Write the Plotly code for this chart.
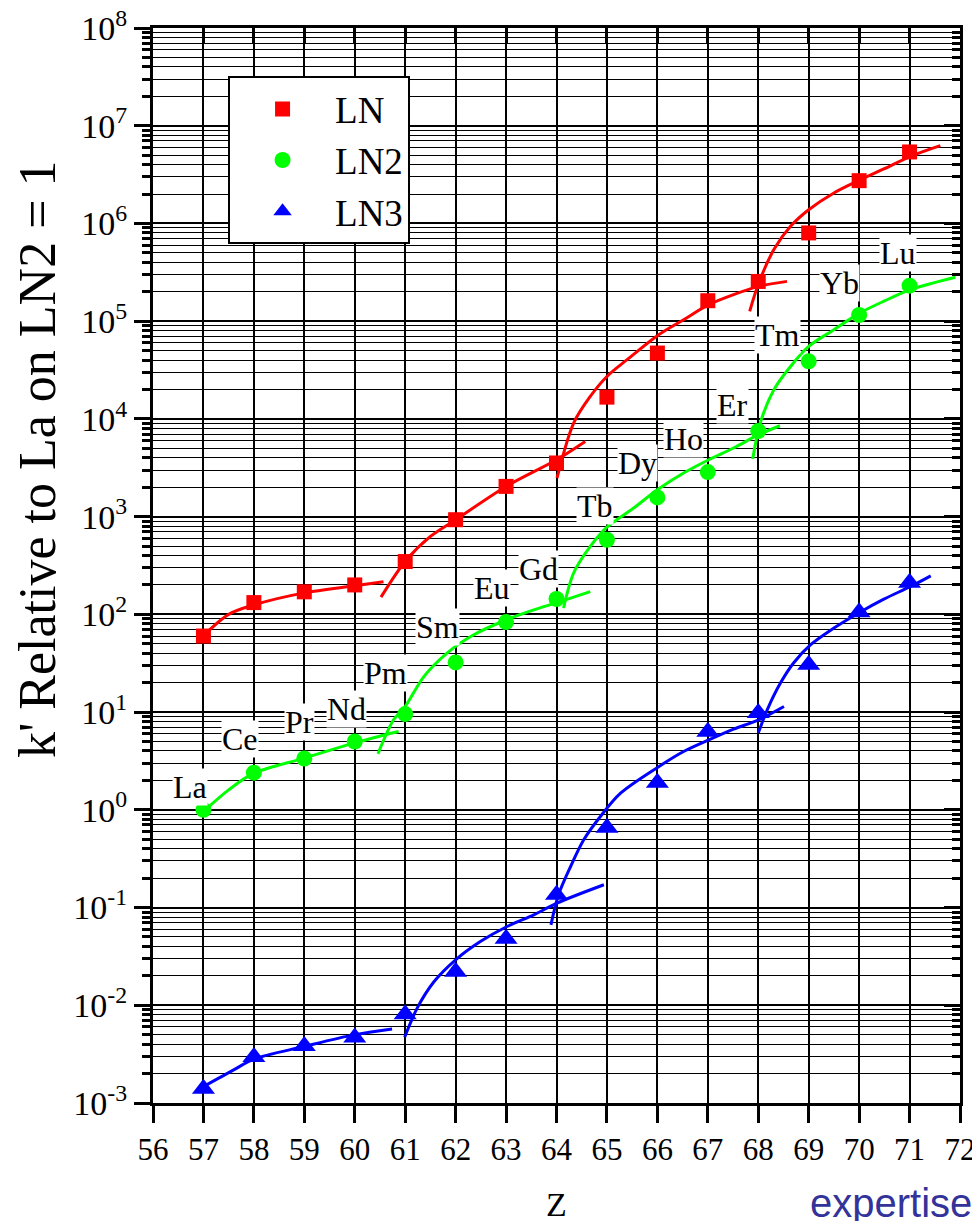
import plotly.graph_objects as go

# ---------------- data ----------------
Z = list(range(57, 72))
ELEMENTS = ["La", "Ce", "Pr", "Nd", "Pm", "Sm", "Eu", "Gd", "Tb", "Dy", "Ho", "Er", "Tm", "Yb", "Lu"]

LN = [60, 132, 170, 200, 347, 930, 2040, 3540, 16700, 47200, 162000, 255000, 800000, 2740000, 5390000]
LN2 = [1.0, 2.4, 3.35, 5.0, 9.55, 32.2, 83.4, 143.5, 580, 1573, 2860, 7520, 38800, 115700, 230700]
LN3 = [0.00140, 0.00296, 0.00382, 0.00468, 0.0081, 0.022, 0.048, 0.135, 0.655, 1.89, 6.3, 9.8, 30.5, 105, 211]

# fitted curve segments (four per resin)
LN_fit_A_x = [57.0, 57.5, 58.0, 59.0, 60.0, 60.57]
LN_fit_A_y = [60.4, 100, 125, 166, 196, 216]
LN_fit_B_x = [60.52, 61.0, 61.5, 62.0, 63.0, 64.0, 64.57]
LN_fit_B_y = [150, 348, 627, 929, 2037, 3822, 5890]
LN_fit_C_x = [64.01, 64.34, 64.67, 65.0, 65.4, 66.0, 66.52, 67.02, 67.51, 68.01, 68.57]
LN_fit_C_y = [2484, 9080, 17000, 27200, 40400, 71100, 103500, 147500, 187000, 227000, 255500]
LN_fit_D_x = [67.83, 68.01, 68.31, 68.64, 69.0, 69.5, 70.0, 70.49, 71.02, 71.61]
LN_fit_D_y = [1.26e5, 2.46e5, 5.4e5, 9.34e5, 1.38e6, 2.05e6, 2.76e6, 3.61e6, 4.86e6, 6.25e6]

LN2_fit_A_x = [57.0, 57.5, 58.0, 59.0, 59.98, 60.87]
LN2_fit_A_y = [0.96, 1.6, 2.37, 3.38, 4.82, 6.33]
LN2_fit_B_x = [60.46, 60.77, 61.0, 61.37, 61.83, 62.36, 63.01, 63.55, 64.01, 64.67]
LN2_fit_B_y = [3.74, 8.34, 11.4, 23.1, 40.2, 61.8, 88.1, 111, 132, 171]
LN2_fit_C_x = [64.14, 64.34, 64.67, 65.0, 65.53, 66.0, 66.52, 67.02, 67.51, 68.01, 68.43]
LN2_fit_C_y = [116, 265, 495, 780, 1225, 1885, 2795, 3822, 5040, 6890, 8510]
LN2_fit_D_x = [67.89, 68.04, 68.31, 68.64, 69.0, 69.5, 70.01, 70.49, 71.02, 71.91]
LN2_fit_D_y = [3890, 9080, 19900, 34400, 55200, 81900, 121000, 160000, 210000, 281000]

LN3_fit_A_x = [57.0, 57.6, 58.0, 58.99, 59.98, 60.74]
LN3_fit_A_y = [1.47e-3, 2.18e-3, 2.81e-3, 3.78e-3, 4.98e-3, 5.73e-3]
LN3_fit_B_x = [60.99, 61.24, 61.57, 62.0, 62.49, 63.02, 63.55, 64.01, 64.94]
LN3_fit_B_y = [4.71e-3, 9.4e-3, 0.0174, 0.0292, 0.0449, 0.0640, 0.0842, 0.111, 0.171]
LN3_fit_C_x = [63.89, 64.04, 64.28, 64.54, 64.87, 65.27, 66.01, 66.52, 67.02, 67.51, 68.01, 68.51]
LN3_fit_C_y = [0.0665, 0.135, 0.263, 0.493, 0.855, 1.48, 2.73, 3.95, 5.20, 6.70, 8.34, 11.4]
LN3_fit_D_x = [68.0, 68.18, 68.44, 68.70, 69.04, 69.5, 70.0, 70.49, 71.02, 71.42]
LN3_fit_D_y = [6.10, 10.6, 19.8, 31.8, 48.9, 72.4, 104, 143, 193, 248]

# element label anchor positions (Z, log10 k')
LABEL_X = [56.74, 57.73, 58.90, 59.84, 60.61, 61.64, 62.73, 63.64, 64.77, 65.60, 66.52, 67.49, 68.38, 69.61, 70.78]
LABEL_LOGY = [0.235, 0.72, 0.90, 1.033, 1.40, 1.87, 2.27, 2.46, 3.11, 3.55, 3.79, 4.14, 4.86, 5.39, 5.70]

DECADES = list(range(-3, 9))
X_TICKS = list(range(56, 73))

# ---------------- styling ----------------
SERIF = "Liberation Serif"
RED, GREEN, BLUE = "#FF0000", "#00FF00", "#0000FF"

fig = go.Figure()

segments = [
    (LN_fit_A_x, LN_fit_A_y, RED), (LN_fit_B_x, LN_fit_B_y, RED),
    (LN_fit_C_x, LN_fit_C_y, RED), (LN_fit_D_x, LN_fit_D_y, RED),
    (LN2_fit_A_x, LN2_fit_A_y, GREEN), (LN2_fit_B_x, LN2_fit_B_y, GREEN),
    (LN2_fit_C_x, LN2_fit_C_y, GREEN), (LN2_fit_D_x, LN2_fit_D_y, GREEN),
    (LN3_fit_A_x, LN3_fit_A_y, BLUE), (LN3_fit_B_x, LN3_fit_B_y, BLUE),
    (LN3_fit_C_x, LN3_fit_C_y, BLUE), (LN3_fit_D_x, LN3_fit_D_y, BLUE),
]
for sx, sy, col in segments:
    fig.add_trace(go.Scatter(x=sx, y=sy, mode="lines", showlegend=False, hoverinfo="skip",
                             line=dict(color=col, width=3, shape="spline", smoothing=0.9)))

fig.add_trace(go.Scatter(x=Z, y=LN, mode="markers", name="LN",
                         marker=dict(symbol="square", size=15, color=RED)))
fig.add_trace(go.Scatter(x=Z, y=LN2, mode="markers", name="LN2",
                         marker=dict(symbol="circle", size=16, color=GREEN)))
fig.add_trace(go.Scatter(x=Z, y=LN3, mode="markers", name="LN3",
                         marker=dict(symbol="triangle-up", size=20, color=BLUE)))

minor_vals = [m * 10 ** d for d in range(-3, 8) for m in range(2, 10)]
dec_vals = [10.0 ** d for d in DECADES]
dec_text = ["10<sup>%s</sup>" % d for d in DECADES]

annotations = []
for name, lx, ly in zip(ELEMENTS, LABEL_X, LABEL_LOGY):
    annotations.append(dict(x=lx, y=ly, xref="x", yref="y", text=name, showarrow=False,
                            font=dict(family=SERIF, size=32, color="black"),
                            bgcolor="white", borderpad=0, xanchor="center", yanchor="middle"))

annotations.append(dict(x=-0.1437, y=0.599, xref="paper", yref="paper",
                        text="k' Relative to La on LN2 = 1", textangle=-90, showarrow=False,
                        font=dict(family=SERIF, size=52, color="black"),
                        xanchor="center", yanchor="middle"))
annotations.append(dict(x=64, y=-0.094, xref="x", yref="paper", text="Z", showarrow=False,
                        font=dict(family=SERIF, size=34, color="black"),
                        xanchor="center", yanchor="middle"))
annotations.append(dict(x=0.812, y=-0.093, xref="paper", yref="paper", text="expertise",
                        showarrow=False, xanchor="left", yanchor="middle",
                        font=dict(family="Liberation Sans", size=40, color="#33339a")))

fig.update_layout(
    width=980, height=1221,
    margin=dict(l=145, r=28, t=20, b=126, autoexpand=False),
    paper_bgcolor="white", plot_bgcolor="white",
    font=dict(family=SERIF, color="black"),
    xaxis=dict(range=[56, 72], tickmode="array", tickvals=X_TICKS, automargin=False,
               ticklabeloverflow="allow",
               ticks="outside", ticklen=17, tickwidth=3, tickcolor="black",
               tickfont=dict(family=SERIF, size=31, color="black"),
               showline=True, linewidth=3, linecolor="black", mirror=True,
               showgrid=True, gridcolor="black", gridwidth=1.5, zeroline=False),
    yaxis=dict(type="log", range=[-3, 8], tickmode="array", tickvals=dec_vals, ticktext=dec_text,
               automargin=False, ticklabeloverflow="allow",
               ticks="outside", ticklen=16, tickwidth=3, tickcolor="black",
               tickfont=dict(family=SERIF, size=34, color="black"),
               showline=True, linewidth=3, linecolor="black", mirror=True,
               showgrid=True, gridcolor="black", gridwidth=1.5, zeroline=False,
               minor=dict(tickmode="array", tickvals=minor_vals, ticks="outside", ticklen=8,
                          tickwidth=2.5, tickcolor="black", showgrid=True,
                          gridcolor="black", gridwidth=1)),
    xaxis2=dict(overlaying="x", side="top", range=[56, 72], tickmode="array", tickvals=X_TICKS,
                automargin=False,
                ticks="inside", ticklen=15, tickwidth=3, tickcolor="black",
                showticklabels=False, showgrid=False, showline=False, zeroline=False),
    yaxis2=dict(overlaying="y", side="right", type="log", range=[-3, 8], tickmode="array",
                automargin=False,
                tickvals=dec_vals, ticks="inside", ticklen=16, tickwidth=3, tickcolor="black",
                showticklabels=False, showgrid=False, showline=False, zeroline=False,
                minor=dict(tickmode="array", tickvals=minor_vals, ticks="inside", ticklen=8,
                           tickwidth=2.5, tickcolor="black", showgrid=False)),
    legend=dict(x=0.093, y=0.955, xanchor="left", yanchor="top",
                bgcolor="white", bordercolor="black", borderwidth=2,
                font=dict(family=SERIF, size=37, color="black"),
                itemwidth=95, tracegroupgap=0, entrywidth=170, entrywidthmode="pixels"),
    annotations=annotations,
    showlegend=True,
)

# empty helper trace so the mirrored tick axes are drawn
fig.add_trace(go.Scatter(x=[], y=[], xaxis="x2", yaxis="y2", showlegend=False, hoverinfo="skip"))

fig.write_html("out.html")
